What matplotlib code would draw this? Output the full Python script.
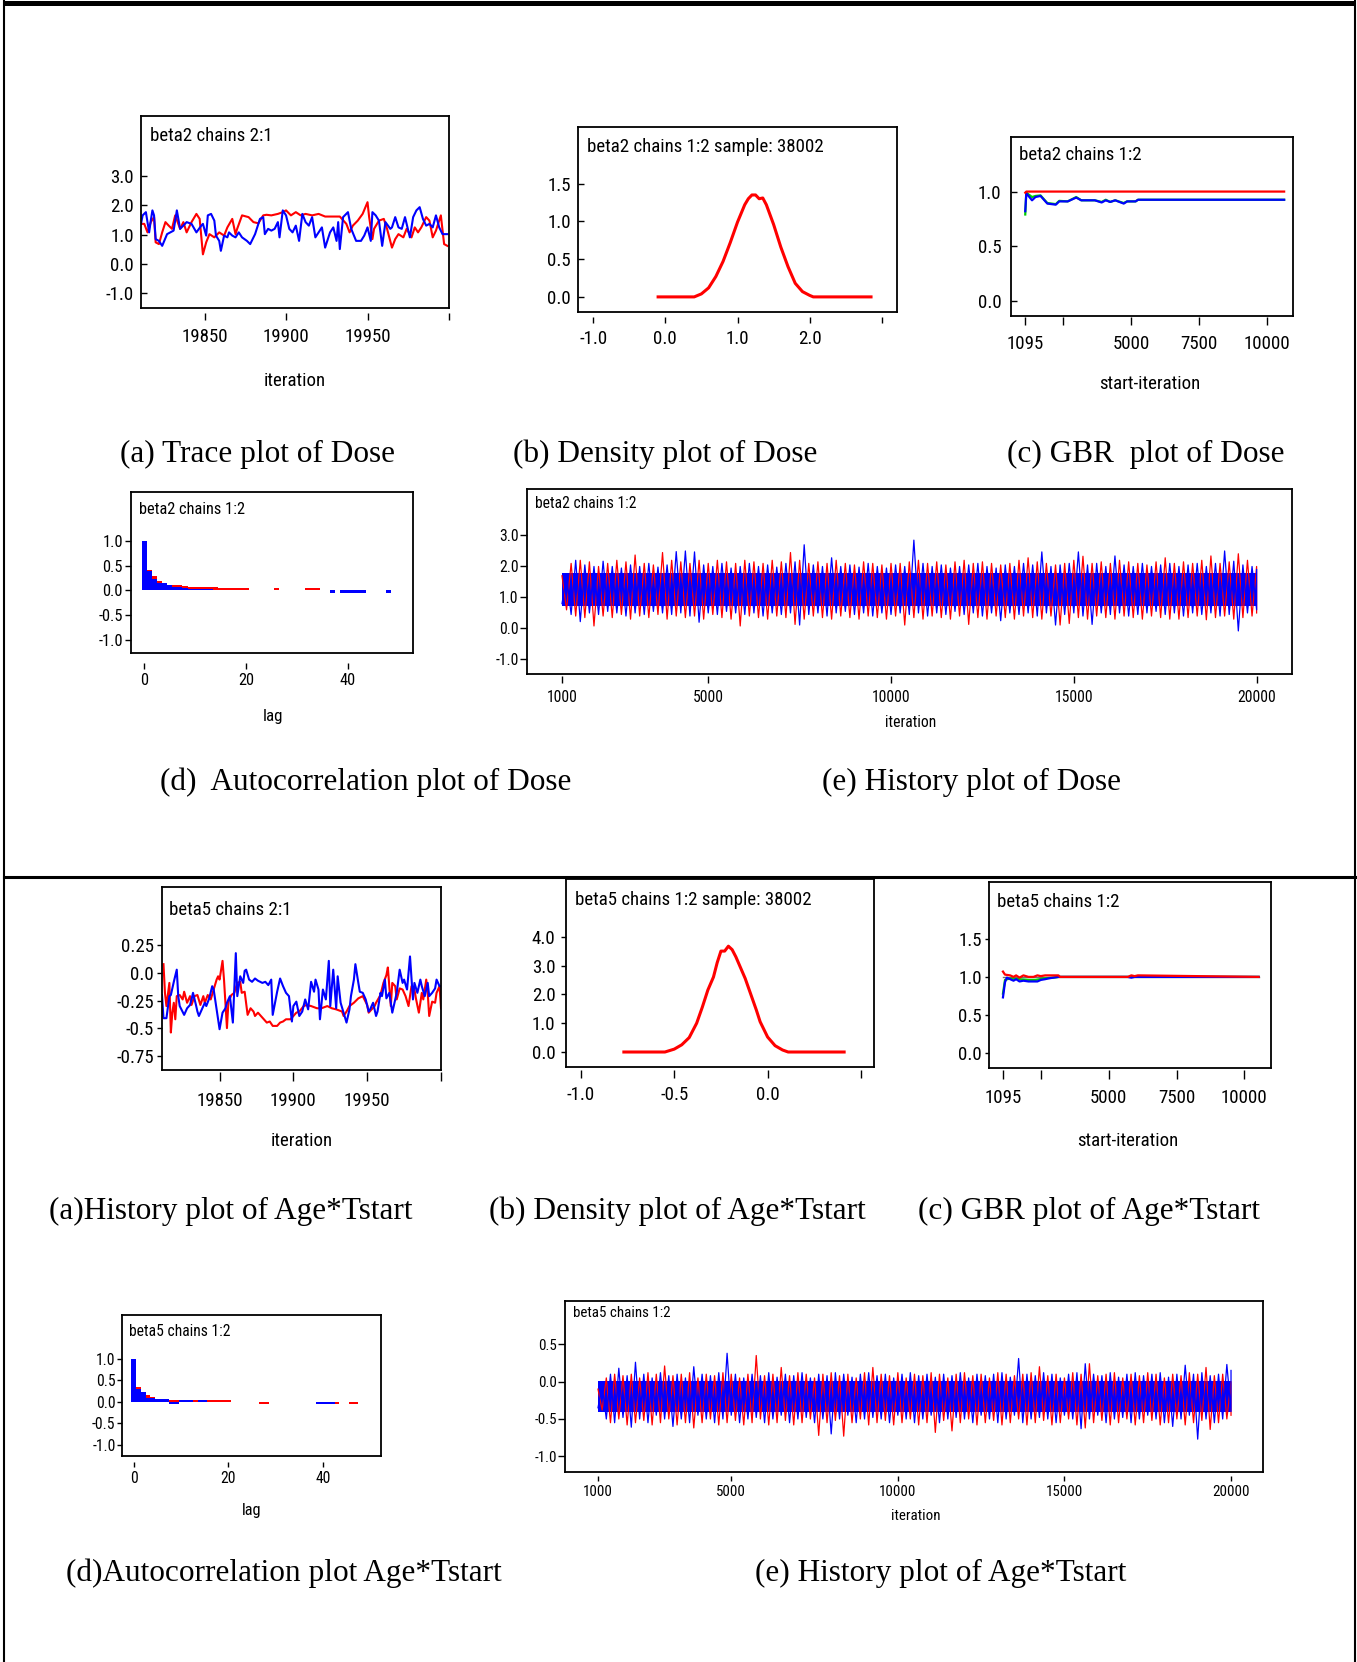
"""
Диагностика сходимости MCMC для beta2 (Dose) и beta5 (Age*Tstart):
trace, density, GBR, автокорреляция и history в одной рамке.
"""

import matplotlib
matplotlib.use("Agg")
import matplotlib.pyplot as plt
import matplotlib.font_manager as fm
from matplotlib.font_manager import FontProperties
from matplotlib.textpath import TextPath
from matplotlib.lines import Line2D

W, H = 1357, 1662
RED, BLUE, GREEN = "#ff0000", "#0000ff", "#00d000"

# -------------------------------
#   ДАННЫЕ: beta2 (Dose)
# -------------------------------
TRACE_B2_RED_IT = [19811, 19813, 19815, 19817, 19819, 19820, 19822, 19824, 19826, 19828,
                   19830, 19832, 19835, 19837, 19839, 19842, 19845, 19847, 19849, 19851,
                   19853, 19856, 19859, 19862, 19864, 19867, 19869, 19870, 19873, 19877,
                   19880, 19883, 19886, 19888, 19891, 19895, 19898, 19900, 19903, 19906,
                   19909, 19912, 19916, 19920, 19924, 19929, 19933, 19937, 19939, 19941,
                   19944, 19947, 19950, 19951, 19953, 19954, 19957, 19960, 19962, 19965,
                   19967, 19969, 19972, 19974, 19977, 19979, 19981, 19983, 19986, 19988,
                   19990, 19992, 19995, 19997, 19999]
TRACE_B2_RED = [1.37, 1.37, 1.08, 1.43, 1.60, 0.74, 0.68, 1.08, 1.43, 1.31,
                1.20, 1.66, 1.20, 1.43, 1.08, 1.43, 1.71, 1.54, 0.33, 0.74,
                1.02, 0.91, 1.08, 0.97, 1.25, 1.54, 1.02, 1.20, 1.66, 1.60,
                1.43, 1.39, 1.66, 1.68, 1.66, 1.71, 1.77, 1.83, 1.66, 1.77,
                1.66, 1.71, 1.66, 1.71, 1.62, 1.62, 1.62, 1.37, 1.08, 1.31,
                1.48, 1.71, 2.11, 1.60, 0.85, 1.20, 1.48, 1.54, 1.20, 0.56,
                0.85, 1.02, 0.91, 1.20, 0.91, 1.25, 1.08, 1.25, 1.60, 1.48,
                0.91, 1.14, 1.66, 0.68, 0.62]
TRACE_B2_BLUE_IT = [19811, 19812, 19814, 19816, 19817, 19818, 19819, 19820, 19822, 19824,
                    19827, 19829, 19831, 19833, 19835, 19837, 19839, 19842, 19845, 19848,
                    19849, 19851, 19852, 19854, 19856, 19857, 19859, 19860, 19862, 19864,
                    19865, 19867, 19869, 19871, 19873, 19876, 19878, 19881, 19884, 19886,
                    19887, 19889, 19891, 19893, 19895, 19896, 19898, 19900, 19902, 19904,
                    19906, 19908, 19910, 19912, 19914, 19916, 19918, 19920, 19922, 19924,
                    19927, 19929, 19931, 19932, 19933, 19935, 19938, 19940, 19943, 19946,
                    19948, 19950, 19952, 19953, 19955, 19957, 19959, 19961, 19964, 19965,
                    19967, 19969, 19971, 19973, 19976, 19978, 19980, 19982, 19984, 19986,
                    19988, 19990, 19992, 19994, 19996, 19998, 19999]
TRACE_B2_BLUE = [1.37, 1.66, 1.77, 1.08, 1.48, 1.83, 1.66, 0.85, 0.79, 0.62,
                 1.02, 1.08, 1.14, 1.83, 1.20, 1.31, 1.43, 1.37, 1.08, 1.31,
                 1.37, 0.97, 1.66, 1.71, 1.48, 0.97, 0.79, 0.45, 0.97, 0.91,
                 1.08, 0.97, 0.91, 1.08, 0.91, 0.79, 0.68, 1.02, 1.54, 1.60,
                 1.02, 1.20, 1.14, 1.20, 1.43, 0.91, 1.83, 1.66, 1.20, 1.08,
                 1.31, 0.79, 1.71, 1.43, 1.31, 1.60, 0.91, 1.08, 1.25, 0.56,
                 1.08, 1.25, 0.79, 1.43, 0.51, 1.60, 1.77, 1.20, 0.79, 0.79,
                 0.97, 1.25, 0.79, 1.77, 1.66, 1.48, 0.62, 1.43, 1.20, 1.25,
                 1.60, 1.25, 1.20, 1.60, 0.91, 1.60, 1.83, 1.94, 1.54, 1.31,
                 1.37, 1.25, 1.66, 1.25, 1.02, 1.02, 1.02]

DENS_B2_X = [-0.1, 0.4, 0.5, 0.6, 0.7, 0.8, 0.9, 1.0, 1.1, 1.15, 1.2, 1.25,
             1.3, 1.35, 1.4, 1.5, 1.6, 1.7, 1.8, 1.9, 2.0, 2.05, 2.85]
DENS_B2_Y = [0.0, 0.0, 0.04, 0.12, 0.27, 0.47, 0.72, 0.99, 1.22, 1.30, 1.35, 1.35,
             1.30, 1.31, 1.22, 0.96, 0.66, 0.40, 0.18, 0.07, 0.02, 0.0, 0.0]

GBR_B2_IT = [1095, 1133, 1345, 1471, 1659, 1910, 2223, 2348, 2662, 2975, 3163,
             3664, 3915, 4065, 4228, 4416, 4730, 4854, 5167, 5257, 10650]
GBR_B2_BLUE = [0.82, 0.985, 0.92, 0.95, 0.96, 0.89, 0.88, 0.91, 0.91, 0.945, 0.92,
               0.92, 0.90, 0.92, 0.905, 0.92, 0.89, 0.91, 0.91, 0.925, 0.925]
GBR_B2_GREEN = [0.79, 0.99, 0.95, 0.96, 0.965, 0.895, 0.885, 0.915, 0.91, 0.95, 0.92,
                0.92, 0.905, 0.925, 0.905, 0.92, 0.895, 0.91, 0.91, 0.925, 0.925]
GBR_B2_RED_IT = [1095, 1133, 10650]
GBR_B2_RED = [0.99, 1.0, 1.0]

LAGS = list(range(51))
ACF_B2_RED = [1.0, 0.42, 0.29, 0.20, 0.14, 0.10, 0.12, 0.11, 0.09, 0.07,
              0.07, 0.07, 0.07, 0.07, 0.07, 0.06, 0.05, 0.05, 0.05, 0.05,
              0.05, 0, 0, 0, 0, 0, 0.05, 0, 0, 0,
              0, 0, 0.05, 0.05, 0.05, 0, 0, 0, 0, 0,
              0, 0, 0, 0, 0, 0, 0, 0, 0, 0,
              0]
ACF_B2_BLUE = [1.0, 0.39, 0.24, 0.16, 0.16, 0.12, 0.08, 0.08, 0.05, 0.04,
               0.04, 0.04, 0.04, 0.04, 0, 0, 0, 0, 0, 0,
               0, 0, 0, 0, 0, 0, 0, 0, 0, 0,
               0, 0, 0, 0, 0, 0, 0, -0.05, 0, -0.05,
               -0.05, -0.05, -0.05, -0.05, 0, 0, 0, 0, -0.05, 0,
               0]

HIST_IT = list(range(1000, 20001, 250))
HIST_B2_BLUE_HI = [1.7, 2.2, 2.05, 2.0, 2.17, 2.0, 1.95, 2.05, 2.0, 2.1,
                   1.98, 2.05, 2.48, 2.5, 2.47, 2.05, 2.0, 2.1, 1.95, 2.0,
                   2.1, 2.0, 2.05, 1.98, 2.1, 2.15, 2.7, 2.05, 2.0, 2.28,
                   2.0, 2.05, 1.98, 2.1, 2.0, 1.95, 2.05, 2.0, 2.85, 2.1,
                   2.0, 2.05, 1.95, 2.0, 2.05, 2.1, 2.0, 1.95, 2.05, 2.0,
                   2.1, 2.05, 2.47, 2.0, 2.05, 2.1, 2.47, 2.05, 2.1, 2.0,
                   2.34, 2.05, 2.0, 2.1, 2.0, 2.05, 2.1, 2.0, 2.05, 2.1,
                   2.0, 2.1, 2.5, 2.17, 2.05, 2.0, 1.9]
HIST_B2_BLUE_LO = [0.8, 0.45, 0.22, 0.5, 0.45, 0.55, 0.5, 0.4, 0.5, 0.45,
                   0.55, 0.5, 0.45, 0.5, 0.4, 0.2, 0.5, 0.45, 0.55, 0.5,
                   0.45, 0.5, 0.4, 0.5, 0.45, 0.5, 0.11, 0.45, 0.5, 0.4,
                   0.5, 0.55, 0.45, 0.5, 0.4, 0.5, 0.45, 0.5, 0.45, 0.5,
                   0.4, 0.5, 0.45, 0.55, 0.45, 0.5, 0.4, 0.5, 0.25, 0.5,
                   0.45, 0.5, 0.4, 0.5, 0.11, 0.45, 0.5, 0.4, 0.13, 0.5,
                   0.45, 0.5, 0.4, 0.45, 0.5, 0.55, 0.45, 0.5, 0.4, 0.5,
                   0.45, 0.5, 0.4, 0.45, -0.08, 0.5, 0.6]
HIST_B2_RED_HI = [1.7, 2.1, 2.2, 2.15, 2.0, 2.1, 2.2, 2.15, 2.37, 2.1,
                  2.05, 2.45, 2.2, 2.15, 2.1, 2.2, 2.1, 2.2, 2.15, 2.1,
                  2.2, 2.15, 2.1, 2.2, 2.15, 2.45, 2.2, 2.1, 2.15, 2.1,
                  2.2, 2.1, 2.05, 2.15, 2.1, 2.05, 2.1, 2.1, 2.15, 2.2,
                  2.1, 2.15, 2.05, 2.15, 2.2, 2.1, 2.15, 2.1, 2.05, 2.1,
                  2.2, 2.28, 2.15, 2.1, 2.05, 2.1, 2.2, 2.33, 2.1, 2.15,
                  2.1, 2.2, 2.15, 2.1, 2.05, 2.15, 2.28, 2.1, 2.15, 2.1,
                  2.2, 2.34, 2.1, 2.15, 2.41, 2.2, 2.0]
HIST_B2_RED_LO = [0.6, 0.4, 0.35, 0.08, 0.4, 0.35, 0.45, 0.3, 0.4, 0.35,
                  0.45, 0.3, 0.4, 0.35, 0.4, 0.3, 0.45, 0.35, 0.3, 0.08,
                  0.4, 0.35, 0.3, 0.4, 0.35, 0.13, 0.3, 0.4, 0.35, 0.3,
                  0.4, 0.35, 0.3, 0.4, 0.35, 0.3, 0.4, 0.11, 0.35, 0.3,
                  0.4, 0.35, 0.3, 0.4, 0.13, 0.35, 0.3, 0.4, 0.35, 0.3,
                  0.4, 0.35, 0.3, 0.4, 0.11, 0.16, 0.35, 0.3, 0.4, 0.35,
                  0.3, 0.4, 0.35, 0.3, 0.4, 0.35, 0.3, 0.3, 0.35, 0.4,
                  0.28, 0.35, 0.4, 0.3, 0.35, 0.4, 0.5]
HIST_B2_CORE = (0.72, 1.78)

# -------------------------------
#   ДАННЫЕ: beta5 (Age*Tstart)
# -------------------------------
TRACE_B5_RED_IT = [19812, 19813, 19814, 19816, 19817, 19818, 19819, 19820, 19821, 19823,
                   19825, 19826, 19828, 19830, 19831, 19833, 19835, 19837, 19839, 19840,
                   19842, 19844, 19846, 19848, 19849, 19850, 19852, 19853, 19855, 19856,
                   19858, 19860, 19862, 19864, 19865, 19867, 19869, 19871, 19873, 19874,
                   19876, 19878, 19880, 19882, 19884, 19886, 19889, 19891, 19893, 19895,
                   19898, 19900, 19902, 19904, 19907, 19909, 19912, 19916, 19919, 19923,
                   19926, 19929, 19933, 19934, 19936, 19938, 19941, 19944, 19947, 19950,
                   19951, 19953, 19955, 19956, 19959, 19961, 19963, 19964, 19966, 19967,
                   19969, 19970, 19972, 19974, 19976, 19978, 19980, 19982, 19983, 19985,
                   19987, 19988, 19990, 19991, 19992, 19994, 19996, 19997, 19999, 20000]
TRACE_B5_RED = [0.08, -0.18, -0.30, -0.09, -0.54, -0.36, -0.27, -0.42, -0.21, -0.20,
                -0.24, -0.17, -0.27, -0.21, -0.29, -0.21, -0.20, -0.29, -0.21, -0.27,
                -0.20, -0.24, -0.15, -0.06, -0.03, -0.06, 0.11, -0.06, -0.50, -0.26,
                -0.20, -0.18, -0.09, -0.08, -0.18, -0.17, -0.38, -0.32, -0.35, -0.39,
                -0.36, -0.39, -0.42, -0.45, -0.44, -0.48, -0.48, -0.45, -0.44, -0.42,
                -0.42, -0.39, -0.36, -0.35, -0.30, -0.29, -0.30, -0.32, -0.32, -0.30,
                -0.32, -0.33, -0.35, -0.39, -0.35, -0.30, -0.27, -0.23, -0.21, -0.29,
                -0.36, -0.33, -0.30, -0.27, -0.20, -0.09, -0.02, 0.05, -0.30, -0.09,
                -0.12, -0.24, -0.14, -0.15, -0.21, -0.30, -0.12, -0.15, -0.23, -0.36,
                -0.18, -0.24, -0.06, -0.18, -0.39, -0.26, -0.27, -0.18, -0.12, -0.32]
TRACE_B5_BLUE_IT = [19811, 19812, 19814, 19816, 19817, 19819, 19821, 19822, 19823, 19826,
                    19828, 19830, 19831, 19832, 19834, 19835, 19836, 19838, 19840, 19841,
                    19843, 19845, 19846, 19848, 19849, 19850, 19852, 19854, 19855, 19857,
                    19859, 19861, 19862, 19864, 19866, 19867, 19868, 19870, 19872, 19874,
                    19876, 19879, 19881, 19883, 19885, 19886, 19889, 19891, 19893, 19895,
                    19897, 19899, 19900, 19902, 19904, 19906, 19908, 19910, 19912, 19914,
                    19915, 19917, 19918, 19920, 19922, 19924, 19925, 19927, 19929, 19930,
                    19932, 19934, 19936, 19938, 19939, 19941, 19942, 19944, 19945, 19947,
                    19949, 19951, 19952, 19954, 19956, 19957, 19959, 19960, 19962, 19963,
                    19965, 19967, 19969, 19970, 19972, 19974, 19975, 19977, 19979, 19981,
                    19982, 19984, 19986, 19987, 19989, 19991, 19992, 19994, 19996, 19997,
                    19999, 20000]
TRACE_B5_BLUE = [-0.20, -0.41, -0.41, -0.21, -0.20, -0.08, 0.03, -0.21, -0.30, -0.38,
                 -0.32, -0.29, -0.24, -0.18, -0.29, -0.35, -0.39, -0.33, -0.27, -0.30,
                 -0.23, -0.12, -0.15, -0.33, -0.42, -0.51, -0.36, -0.32, -0.27, -0.21,
                 -0.45, 0.18, -0.21, -0.03, -0.09, 0.02, 0.03, -0.06, -0.08, -0.05,
                 -0.07, -0.09, -0.08, -0.11, -0.06, -0.38, -0.17, -0.05, -0.12, -0.18,
                 -0.21, -0.44, -0.30, -0.26, -0.39, -0.35, -0.24, -0.33, -0.08, -0.17,
                 -0.06, -0.15, -0.42, -0.15, -0.24, 0.11, -0.30, 0.03, -0.32, -0.03,
                 -0.27, -0.36, -0.45, -0.33, -0.21, -0.06, 0.08, -0.09, -0.17, -0.18,
                 -0.24, -0.35, -0.33, -0.27, -0.39, -0.35, -0.18, -0.21, -0.06, -0.23,
                 -0.18, -0.36, -0.24, -0.18, 0.03, -0.09, -0.06, -0.15, 0.15, -0.24,
                 -0.09, -0.18, -0.06, -0.12, -0.21, -0.09, -0.21, -0.18, -0.14, -0.06,
                 -0.12, -0.12]

DENS_B5_X = [-0.77, -0.55, -0.50, -0.46, -0.42, -0.38, -0.35, -0.32, -0.29, -0.27,
             -0.25, -0.23, -0.21, -0.19, -0.17, -0.15, -0.12, -0.09, -0.06, -0.04,
             0.0, 0.04, 0.08, 0.11, 0.41]
DENS_B5_Y = [0.0, 0.0, 0.10, 0.25, 0.50, 1.00, 1.55, 2.15, 2.60, 3.10,
             3.50, 3.50, 3.67, 3.55, 3.30, 3.00, 2.55, 2.00, 1.45, 1.05,
             0.52, 0.22, 0.07, 0.0, 0.0]

GBR_B5_BLUE_IT = [1095, 1170, 1240, 1360, 1484, 1580, 1705, 1850, 2035, 2220,
                  2365, 2490, 2650, 2770, 2955, 3140, 5700, 5830, 5950, 10525]
GBR_B5_BLUE = [0.73, 0.93, 0.99, 0.97, 0.95, 0.97, 0.94, 0.95, 0.94, 0.94,
               0.94, 0.96, 0.97, 0.98, 0.99, 1.0, 1.0, 0.99, 1.0, 1.0]
GBR_B5_GREEN_IT = [1095, 1170, 1360, 1705, 2035, 2300, 2600, 2955, 3140, 10525]
GBR_B5_GREEN = [0.78, 0.96, 0.98, 0.97, 0.96, 0.96, 0.98, 0.99, 1.0, 1.0]
GBR_B5_RED_IT = [1095, 1170, 1360, 1484, 1580, 1705, 1850, 2035, 2220, 2365,
                 2490, 2650, 3140, 3200, 5700, 5830, 5950, 6070, 10525]
GBR_B5_RED = [1.07, 1.03, 1.02, 1.0, 1.02, 0.99, 1.02, 1.0, 1.0, 1.02,
              1.01, 1.02, 1.02, 1.0, 1.0, 1.02, 1.01, 1.02, 1.0]

ACF_B5_RED = [1.0, 0.35, 0.20, 0.16, 0.11, 0.05, 0.05, 0.05, 0.05, 0.05,
              0.03, 0.03, 0.03, 0.05, 0.05, 0.05, 0.05, 0.05, 0.05, 0.05,
              0.05, 0, 0, 0, 0, 0, 0, -0.05, -0.05, 0,
              0, 0, 0, 0, 0, 0, 0, 0, 0, 0,
              0, 0, 0, -0.05, 0, 0, -0.05, -0.05, 0, 0,
              0]
ACF_B5_BLUE = [1.0, 0.30, 0.23, 0.10, 0.08, 0.06, 0.06, 0.06, -0.04, -0.04,
               0.04, 0.04, 0.04, 0, 0.04, 0.04, 0, 0, 0, 0,
               0, 0, 0, 0, 0, 0, 0, 0, 0, 0,
               0, 0, 0, 0, 0, 0, 0, 0, 0, -0.05,
               -0.05, -0.05, -0.05, 0, 0, 0, 0, 0, 0, 0,
               0]

HIST_B5_BLUE_HI = [-0.05, 0.1, 0.18, 0.08, 0.26, 0.1, 0.05, 0.12, 0.08, 0.1,
                   0.05, 0.2, 0.1, 0.08, 0.12, 0.38, 0.1, 0.05, 0.1, 0.08,
                   0.12, 0.06, 0.1, 0.08, 0.12, 0.05, 0.1, 0.08, 0.12, 0.1,
                   0.06, 0.1, 0.12, 0.08, 0.1, 0.05, 0.1, 0.12, 0.08, 0.1,
                   0.06, 0.1, 0.08, 0.12, 0.05, 0.1, 0.08, 0.1, 0.12, 0.06,
                   0.31, 0.1, 0.08, 0.12, 0.1, 0.05, 0.1, 0.12, 0.24, 0.1,
                   0.08, 0.12, 0.06, 0.1, 0.12, 0.08, 0.1, 0.12, 0.06, 0.1,
                   0.22, 0.1, 0.12, 0.08, 0.1, 0.23, 0.15]
HIST_B5_BLUE_LO = [-0.35, -0.5, -0.55, -0.48, -0.61, -0.5, -0.55, -0.45, -0.5, -0.6,
                   -0.5, -0.55, -0.45, -0.5, -0.55, -0.5, -0.45, -0.55, -0.5, -0.48,
                   -0.55, -0.5, -0.45, -0.55, -0.5, -0.48, -0.55, -0.5, -0.7, -0.5,
                   -0.45, -0.55, -0.5, -0.48, -0.5, -0.55, -0.45, -0.5, -0.55, -0.5,
                   -0.45, -0.55, -0.5, -0.48, -0.5, -0.55, -0.45, -0.5, -0.55, -0.5,
                   -0.45, -0.55, -0.5, -0.48, -0.5, -0.55, -0.45, -0.5, -0.63, -0.5,
                   -0.45, -0.55, -0.5, -0.48, -0.55, -0.5, -0.45, -0.5, -0.55, -0.6,
                   -0.5, -0.45, -0.77, -0.5, -0.55, -0.5, -0.4]
HIST_B5_RED_HI = [-0.1, 0.05, 0.1, 0.08, 0.1, 0.05, 0.12, 0.1, 0.21, 0.08,
                  0.1, 0.12, 0.05, 0.1, 0.08, 0.12, 0.1, 0.05, 0.1, 0.35,
                  0.08, 0.1, 0.19, 0.08, 0.12, 0.1, 0.05, 0.1, 0.12, 0.08,
                  0.1, 0.05, 0.12, 0.19, 0.1, 0.08, 0.12, 0.05, 0.1, 0.08,
                  0.12, 0.1, 0.05, 0.1, 0.12, 0.08, 0.1, 0.05, 0.12, 0.1,
                  0.08, 0.1, 0.12, 0.2, 0.08, 0.1, 0.05, 0.12, 0.1, 0.24,
                  0.08, 0.1, 0.12, 0.05, 0.1, 0.08, 0.12, 0.1, 0.05, 0.1,
                  0.08, 0.12, 0.1, 0.19, 0.08, 0.1, 0.0]
HIST_B5_RED_LO = [-0.38, -0.55, -0.5, -0.58, -0.55, -0.52, -0.58, -0.55, -0.5, -0.58,
                  -0.55, -0.62, -0.55, -0.5, -0.58, -0.55, -0.52, -0.58, -0.55, -0.5,
                  -0.58, -0.55, -0.52, -0.58, -0.55, -0.5, -0.72, -0.55, -0.52, -0.73,
                  -0.55, -0.5, -0.58, -0.55, -0.52, -0.58, -0.55, -0.5, -0.58, -0.55,
                  -0.68, -0.52, -0.66, -0.55, -0.5, -0.58, -0.55, -0.52, -0.58, -0.55,
                  -0.5, -0.58, -0.55, -0.52, -0.58, -0.55, -0.5, -0.58, -0.62, -0.55,
                  -0.52, -0.58, -0.55, -0.5, -0.58, -0.55, -0.52, -0.58, -0.55, -0.5,
                  -0.58, -0.55, -0.52, -0.64, -0.55, -0.5, -0.45]
HIST_B5_CORE = (-0.41, 0.01)

# -------------------------------
#   ШРИФТЫ: ищем узкий гротеск, иначе уменьшаем кегль
# -------------------------------
NARROW_STRETCH = ("condensed", "semi-condensed", "extra-condensed", "ultra-condensed")


def pick_sans():
    prefer = ["Liberation Sans Narrow", "Arial Narrow", "Roboto Condensed",
              "Open Sans Condensed", "Noto Sans", "DejaVu Sans", "Open Sans", "Roboto"]
    found = {}
    for f in fm.fontManager.ttflist:
        if f.style != "normal" or f.weight not in (400, "normal", "regular"):
            continue
        if "Narrow" in f.name or "Condensed" in f.name or f.stretch in NARROW_STRETCH:
            found.setdefault(f.name, f.stretch)
    for name in prefer:
        if name in found:
            return name, found[name]
    if found:
        name = sorted(found)[0]
        return name, found[name]
    return "DejaVu Sans", "normal"


SANS, STRETCH = pick_sans()
SERIF = "Liberation Serif"
plt.rcParams["font.family"] = SANS
plt.rcParams["font.stretch"] = STRETCH

# ширина строки в Arial Narrow на кегле 10 ~ 60 единиц
_w = TextPath((0, 0), "beta2 chains 1:2", size=10,
              prop=FontProperties(family=SANS, stretch=STRETCH)).get_extents().width
FS_K = min(1.0, 60.2 / _w)


def fs(size):
    return size * FS_K


fig = plt.figure(figsize=(W / 100, H / 100), dpi=100)
LW = 1.3


def box(x0, y0, x1, y1):
    """Оси по пиксельным координатам рамки (от верхнего левого угла)."""
    return fig.add_axes([x0 / W, 1 - y1 / H, (x1 - x0) / W, (y1 - y0) / H])


def ftext(x, y, s, **kw):
    fig.text(x / W, 1 - y / H, s, **kw)


def hline(x0, x1, y, lw):
    fig.add_artist(Line2D([x0 / W, x1 / W], [1 - y / H, 1 - y / H],
                          transform=fig.transFigure, color="black", lw=lw))


def vline(x, y0, y1, lw):
    fig.add_artist(Line2D([x / W, x / W], [1 - y0 / H, 1 - y1 / H],
                          transform=fig.transFigure, color="black", lw=lw))


def frame(ax, xlim, ylim, xt, xl, yt, yl, size, ydir, xoff, xlen, xpad, ylen, ypad):
    """Рамка в стиле WinBUGS: ось X с отступом вниз от нижней границы."""
    ax.set_xlim(*xlim)
    ax.set_ylim(*ylim)
    ax.set_xticks(xt)
    ax.set_xticklabels(xl)
    ax.set_yticks(yt)
    ax.set_yticklabels(yl)
    ax.spines["bottom"].set_position(("outward", xoff))
    ax.spines["bottom"].set_visible(False)
    ax.add_artist(Line2D([0, 1], [0, 0], transform=ax.transAxes,
                         color="black", lw=LW, clip_on=False))
    for s in ("top", "left", "right"):
        ax.spines[s].set_linewidth(LW)
    ax.tick_params(axis="x", direction="out", length=xlen, width=1.0,
                   pad=xpad, labelsize=fs(size))
    ax.tick_params(axis="y", direction=ydir, length=ylen, width=1.0,
                   pad=ypad, labelsize=fs(size))


def zigzag(ax, hi, lo, color, up_first):
    """Ломаная между верхними и нижними выбросами цепи."""
    xs, ys = [], []
    for x, h, l in zip(HIST_IT, hi, lo):
        xs += [x, min(x + 125, HIST_IT[-1])]
        ys += [h, l] if up_first else [l, h]
    ax.plot(xs, ys, color=color, lw=0.9)


def history(ax, red_hi, red_lo, blue_hi, blue_lo, core):
    zigzag(ax, red_hi, red_lo, RED, True)
    ax.fill_between([HIST_IT[0], HIST_IT[-1]], core[0], core[1], color=BLUE, lw=0)
    zigzag(ax, blue_hi, blue_lo, BLUE, False)


def acf(ax, red, blue):
    ax.bar(LAGS, red, width=1.0, color=RED, lw=0)
    ax.bar(LAGS, blue, width=1.0, color=BLUE, lw=0)


# -------------------------------
#   ВНЕШНЯЯ РАМКА
# -------------------------------
hline(5, 1352, 2.5, 3.6)
vline(4, 0, H, 1.5)
vline(1355, 0, H, 1.5)
hline(4, 1355, 877, 2.2)

# -------------------------------
#   ВЕРХНИЙ БЛОК: beta2 (Dose)
# -------------------------------
ax = box(141, 116, 449, 308)
ax.plot(TRACE_B2_RED_IT, TRACE_B2_RED, color=RED, lw=1.5)
ax.plot(TRACE_B2_BLUE_IT, TRACE_B2_BLUE, color=BLUE, lw=1.5)
frame(ax, (19811, 20000), (-1.5, 5.05), [19850, 19900, 19950, 20000],
      ["19850", "19900", "19950", ""], [-1, 0, 1, 2, 3],
      ["-1.0", "0.0", "1.0", "2.0", "3.0"], 14.5, "in", 3.6, 5, 6, 4, 5)
ftext(150, 136, "beta2 chains 2:1", fontsize=fs(14.5), va="center")
ftext(295, 381, "iteration", fontsize=fs(14.5), ha="center", va="center")

ax = box(578, 127, 897, 312)
ax.plot(DENS_B2_X, DENS_B2_Y, color=RED, lw=2.2)
frame(ax, (-1.21, 3.21), (-0.2, 2.25), [-1, 0, 1, 2, 3],
      ["-1.0", "0.0", "1.0", "2.0", ""], [0, 0.5, 1.0, 1.5],
      ["0.0", "0.5", "1.0", "1.5"], 14.5, "in", 3.6, 4.5, 5, 4, 5)
ftext(587, 147, "beta2 chains 1:2 sample: 38002", fontsize=fs(14.5), va="center")

ax = box(1011, 137, 1293, 316)
ax.plot(GBR_B2_IT, GBR_B2_GREEN, color=GREEN, lw=1.6)
ax.plot(GBR_B2_IT, GBR_B2_BLUE, color=BLUE, lw=1.6)
ax.plot(GBR_B2_RED_IT, GBR_B2_RED, color=RED, lw=1.6)
frame(ax, (569, 10977), (-0.14, 1.5), [1095, 2500, 5000, 7500, 10000],
      ["1095", "", "5000", "7500", "10000"], [0, 0.5, 1.0],
      ["0.0", "0.5", "1.0"], 14.5, "in", 0.8, 6, 7, 4, 7)
ftext(1019, 155, "beta2 chains 1:2", fontsize=fs(14.5), va="center")
ftext(1150, 384, "start-iteration", fontsize=fs(14.5), ha="center", va="center")

ax = box(131, 492, 413, 653)
acf(ax, ACF_B2_RED, ACF_B2_BLUE)
frame(ax, (-2.6, 52.8), (-1.27, 2.0), [0, 20, 40], ["0", "20", "40"],
      [-1, -0.5, 0, 0.5, 1], ["-1.0", "-0.5", "0.0", "0.5", "1.0"],
      12.5, "out", 7.2, 4.3, 3, 4.3, 1.5)
ftext(139, 509, "beta2 chains 1:2", fontsize=fs(12.5), va="center")
ftext(273, 717, "lag", fontsize=fs(13), ha="center", va="center")

ax = box(527, 489, 1292, 674)
history(ax, HIST_B2_RED_HI, HIST_B2_RED_LO, HIST_B2_BLUE_HI, HIST_B2_BLUE_LO,
        HIST_B2_CORE)
frame(ax, (43, 20968), (-1.47, 4.5), [1000, 5000, 10000, 15000, 20000],
      ["1000", "5000", "10000", "15000", "20000"], [-1, 0, 1, 2, 3],
      ["-1.0", "0.0", "1.0", "2.0", "3.0"], 12, "out", 1.5, 5, 5, 5, 1)
ftext(535, 503, "beta2 chains 1:2", fontsize=fs(12), va="center")
ftext(911, 723, "iteration", fontsize=fs(12), ha="center", va="center")

# -------------------------------
#   НИЖНИЙ БЛОК: beta5 (Age*Tstart)
# -------------------------------
ax = box(162, 887, 441, 1070)
ax.plot(TRACE_B5_RED_IT, TRACE_B5_RED, color=RED, lw=1.5)
ax.plot(TRACE_B5_BLUE_IT, TRACE_B5_BLUE, color=BLUE, lw=1.5)
frame(ax, (19811, 20000), (-0.88, 0.78), [19850, 19900, 19950, 20000],
      ["19850", "19900", "19950", ""], [-0.75, -0.5, -0.25, 0, 0.25],
      ["-0.75", "-0.5", "-0.25", "0.0", "0.25"], 14.5, "out", 1.5, 6.5, 8, 3.6, 2)
ftext(169, 910, "beta5 chains 2:1", fontsize=fs(14.5), va="center")
ftext(302, 1141, "iteration", fontsize=fs(14.5), ha="center", va="center")

ax = box(566, 879, 874, 1067)
ax.plot(DENS_B5_X, DENS_B5_Y, color=RED, lw=2.2)
frame(ax, (-1.08, 0.57), (-0.52, 6.0), [-1.0, -0.5, 0.0, 0.5],
      ["-1.0", "-0.5", "0.0", ""], [0, 1, 2, 3, 4],
      ["0.0", "1.0", "2.0", "3.0", "4.0"], 14.5, "out", 2.2, 5.8, 6, 3.6, 4)
ftext(575, 900, "beta5 chains 1:2 sample: 38002", fontsize=fs(14.5), va="center")

ax = box(989, 882, 1271, 1068)
ax.plot([1095, 10525], [1.0, 1.0], color="#707070", lw=1.0)
ax.plot(GBR_B5_GREEN_IT, GBR_B5_GREEN, color=GREEN, lw=1.6)
ax.plot(GBR_B5_BLUE_IT, GBR_B5_BLUE, color=BLUE, lw=1.6)
ax.plot(GBR_B5_RED_IT, GBR_B5_RED, color=RED, lw=1.6)
frame(ax, (580, 10980), (-0.2, 2.25), [1095, 2500, 5000, 7500, 10000],
      ["1095", "", "5000", "7500", "10000"], [0, 0.5, 1.0, 1.5],
      ["0.0", "0.5", "1.0", "1.5"], 14.5, "out", 1.5, 6.5, 7, 3, 2)
ftext(997, 902, "beta5 chains 1:2", fontsize=fs(14.5), va="center")
ftext(1128, 1141, "start-iteration", fontsize=fs(14.5), ha="center", va="center")

ax = box(122, 1315, 381, 1456)
acf(ax, ACF_B5_RED, ACF_B5_BLUE)
frame(ax, (-2.5, 52.3), (-1.26, 2.02), [0, 20, 40], ["0", "20", "40"],
      [-1, -0.5, 0, 0.5, 1], ["-1.0", "-0.5", "0.0", "0.5", "1.0"],
      12, "out", 4.3, 3.6, 3, 3.6, 1)
ftext(129, 1331, "beta5 chains 1:2", fontsize=fs(12), va="center")
ftext(252, 1511, "lag", fontsize=fs(12.5), ha="center", va="center")

ax = box(565, 1301, 1263, 1472)
history(ax, HIST_B5_RED_HI, HIST_B5_RED_LO, HIST_B5_BLUE_HI, HIST_B5_BLUE_LO,
        HIST_B5_CORE)
frame(ax, (10, 20960), (-1.21, 1.08), [1000, 5000, 10000, 15000, 20000],
      ["1000", "5000", "10000", "15000", "20000"], [-1, -0.5, 0, 0.5],
      ["-1.0", "-0.5", "0.0", "0.5"], 11.5, "out", 2.9, 3.6, 3, 5, 1)
ftext(573, 1313, "beta5 chains 1:2", fontsize=fs(11.5), va="center")
ftext(916, 1516, "iteration", fontsize=fs(11.5), ha="center", va="center")

# -------------------------------
#   ПОДПИСИ ПАНЕЛЕЙ
# -------------------------------
CAP = dict(family=SERIF, fontsize=22.5, ha="center", va="center")
ftext(257, 454, "(a) Trace plot of Dose", **CAP)
ftext(665, 454, "(b) Density plot of Dose", **CAP)
ftext(1146, 454, "(c) GBR  plot of Dose", **CAP)
ftext(366, 782, "(d)  Autocorrelation plot of Dose", **CAP)
ftext(971, 782, "(e) History plot of Dose", **CAP)
ftext(231, 1211, "(a)History plot of Age*Tstart", **CAP)
ftext(677, 1211, "(b) Density plot of Age*Tstart", **CAP)
ftext(1089, 1211, "(c) GBR plot of Age*Tstart", **CAP)
ftext(284, 1573, "(d)Autocorrelation plot Age*Tstart", **CAP)
ftext(941, 1573, "(e) History plot of Age*Tstart", **CAP)

fig.savefig("out.png", dpi=100)
